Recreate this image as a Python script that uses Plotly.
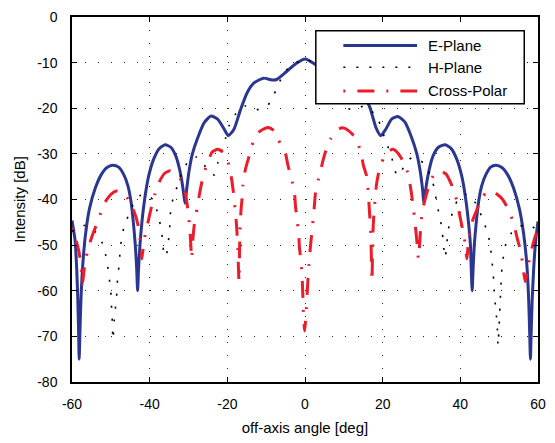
import plotly.graph_objects as go

# ---------------- data ----------------
e_angle = [-60, -59.2, -58.8, -58.5, -58.3, -58.15, -57.95, -57.7, -57.2, -56.5, -55.5, -54, -52.5, -51,
           -49.5, -48, -46.7, -45.6, -44.8, -44.2, -43.7, -43.35, -43.1, -42.85, -42.5, -42, -41.3,
           -40.3, -39, -37.5, -36, -34.5, -33.3, -32.4, -31.7, -31.2, -30.9, -30.5, -29.9, -29,
           -27.6, -25.9, -24.2, -22.5, -20.8, -19.75, -18.3, -16.6, -14.9, -13.2, -10.7, -8.5,
           -7.3, -4.8, -2.3, 0,
           2.3, 4.8, 7.3, 8.5, 10.7, 13.2, 14.9, 16.7, 18.3, 19.5, 20.8, 22.3, 23.9, 25.7, 27.4,
           28.8, 29.7, 30.3, 30.6, 30.9, 31.4, 32.1, 33, 34.3, 36.1, 37.6, 39.1, 40.4, 41.4, 42.1,
           42.6, 42.8, 43.04, 43.3, 43.6, 44.1, 44.7, 45.5, 46.6, 47.8, 49.2, 50.7, 52.2, 53.7,
           55.2, 56.3, 57.1, 57.6, 57.85, 58.05, 58.25, 58.5, 58.9, 59.4, 60]
e_plane = [-44.6, -49, -55, -62, -69, -75, -69, -62, -54, -47.5, -42, -37.5, -34.6, -33,
           -32.5, -32.9, -34.5, -37, -40.5, -45, -50, -55, -60, -55, -50, -45, -40,
           -35, -31.2, -28.8, -28, -28.6, -30.4, -33, -36, -39, -40.8, -38, -34, -30,
           -26.4, -23.1, -21.7, -22.4, -24.6, -26, -24.6, -20.3, -16.6, -14.5, -13.4, -13.8,
           -13.7, -12, -10.2, -9.2,
           -10.2, -12, -13.7, -13.8, -13.4, -14.5, -16.6, -19.8, -24.3, -26, -24.6, -22.4, -21.8, -23, -26.3,
           -30, -34, -38, -40.8, -39, -36, -33, -30.4, -28.6, -28, -28.8, -31.2, -35, -40, -45,
           -50, -55, -60, -55, -50, -45, -40.5, -37, -34.5, -32.9, -32.5, -33, -34.6, -37.5,
           -42, -47.5, -54, -62, -69, -75, -69, -62, -55, -49, -44.8]

h_angle = [-60, -58.3, -56.5, -54.5, -52.6, -51.6, -50.9, -50.5, -50.05, -49.9, -49.7, -49.6, -49.45,
           -49.0, -48.6, -48.4, -48.2, -47.8, -47.6, -47.2, -46.5, -45.2, -44, -42.6, -41.3, -40,
           -38.9, -37.9, -37.2, -36.7, -36.4, -35.8, -34.9, -34.7, -34.5, -33.4, -32.6, -31.3,
           -29.6, -28, -26.8, -25.1, -23.3, -22.4, -21.3, -20.4, -19.6, -17.9, -15.4, -12.4,
           -9.7, -8, -6.7, -5.2, -3, 0,
           3, 5.2, 6.7, 8, 9.9, 12.4, 15.4, 17.9, 18.8, 20.9, 22.2, 22.9, 23.8, 25, 26.8, 28.1,
           30.6, 32.2, 33.2, 33.8, 34.4, 35.1, 35.5, 35.8, 36.1, 36.5, 36.8, 37.5, 38.4, 39.9,
           41.4, 42.9, 44.6, 45.8, 46.9, 47.7, 48, 48.4, 48.6, 48.8, 49.1, 49.4, 49.6, 49.7,
           49.9, 50.05, 50.2, 50.5, 50.7, 51.1, 51.7, 53.2, 55, 56.5, 58.3, 60]
h_plane = [-47, -45.9, -45.7, -46.6, -48.7, -51.2, -54, -56.8, -59.6, -62.4, -65.2, -68, -70.7,
           -65, -62.3, -59.5, -56.8, -53.9, -51.1, -48.4, -45.7, -43, -40.6, -39.2, -38.9, -39.3,
           -40.4, -43.1, -45.8, -48.6, -51.4, -52.5, -46.9, -44, -41.3, -38.6, -36, -33.4,
           -31.1, -30.7, -31.2, -33.6, -34.6, -31.8, -29, -26.4, -23.9, -21.3, -19.5, -20.3,
           -19.5, -17, -14.5, -12, -10.3, -9.3,
           -10.3, -12, -14.5, -17, -19.7, -20.3, -19.5, -21.3, -22.4, -27.5, -30.3, -33, -34.8, -33.5, -31.2, -30.7,
           -32.1, -34.6, -37.2, -40, -42.7, -45.6, -48.4, -51, -52.7, -50, -47.1, -44.4, -41.7, -39.4,
           -38.9, -39.5, -41.9, -44.4, -47, -49.8, -52.7, -55.4, -58.2, -61, -63.8, -66.5, -69.3, -72,
           -69.3, -66.4, -63.7, -58.1, -55.2, -52.5, -49.8, -47.3, -46, -45.6, -45.8, -47]

c_angle = [-60, -59, -58.2, -57.7, -57.3, -56.9, -56.3, -55.4, -54.3, -53.2, -51.8, -49.9, -48.3,
           -46.9, -45.5, -44.4, -43.3, -42.7, -42.3, -42, -41.6, -41, -40.3, -39.7, -38.7, -37.6,
           -36.2, -34.7, -33.3, -32.2, -30.9, -30.2, -29.7, -29.4, -29.2, -28.9, -28.5, -27.8,
           -27, -26.1, -25, -23.9, -22.5, -21.1, -20.1, -19.6, -19, -18.5, -18, -17.6, -17.3,
           -17, -16.85, -16.7, -16.5, -16.2, -16, -15.4, -14.5, -13.7, -12, -9.6, -8, -7, -5,
           -4.4, -3.5, -2.7, -2.45, -2.1, -1.6, -1.45, -1.1, -0.76, -0.6, -0.45, -0.1,
           0.35, 0.6, 0.8, 1.1, 1.4, 1.7, 2.1, 2.4, 2.7, 3.5, 4.3, 5.1, 6.6, 8, 9.6, 11.2, 12.9,
           14.4, 15, 15.9, 16.3, 16.5, 16.7, 16.95, 17.05, 17.15, 17.25, 17.4, 17.55, 17.8, 18.4,
           19.1, 20.2, 21.3, 22.7, 24, 25.1, 26.4, 27.3, 28, 28.5, 28.9, 29.2, 29.5, 29.8, 30.2,
           31.1, 32.3, 33.5, 34.9, 36.3, 37, 38.2, 39.1, 39.9, 40.6, 41.2, 41.7, 42.0, 42.5, 43.2,
           44.1, 45.4, 46.8, 48, 49.4, 50.9, 52.6, 53.8, 54.7, 55.5, 56.1, 56.7, 57.2, 57.8, 58.5,
           59.2, 60]
cross_polar = [-46.2, -48.8, -51.5, -54.5, -58.5, -55.5, -52.5, -49.5, -46.8, -44.5, -41, -38.8, -38.1,
               -38.4, -40, -41.8, -44.5, -47, -50, -53, -50, -47, -44.5, -42.2, -39, -36.3,
               -34.3, -33.7, -34.3, -35.4, -38.3, -42, -46, -50, -53, -49, -45.5, -42,
               -38, -34.5, -31.8, -29.6, -29, -29.7, -31.2, -32.4, -35, -38, -42, -46, -51,
               -58, -51, -46, -42.6, -39.7, -37, -33.6, -30.8, -28.2, -25.3, -24.2, -24.9, -26.7, -30,
               -32.5, -35.4, -38.6, -41.5, -44, -47.6, -50.4, -53, -56.6, -60, -64, -68.8,
               -64, -60, -56.8, -53.4, -50.3, -47.8, -44.3, -41.5, -38.6, -35.4, -32.6, -30, -26.7, -24.9, -24.3, -24.9, -26.4,
               -29.6, -32.4, -35, -38.6, -41.3, -44, -47.6, -51.2, -55, -58, -51, -46, -42.6, -36.8,
               -33.6, -31, -29.5, -29, -29.9, -31.4, -34, -38, -42.5, -46.5, -50, -53, -50, -46, -42.6,
               -39.4, -36, -34.2, -33.8, -34.4, -35.4, -37.7, -40.4, -43.7, -46.6, -49.4, -53, -50, -47, -44.5,
               -42.6, -39.6, -38.5, -38.1, -38.8, -40, -42.6, -45.5, -48.7, -51.2, -54.5, -58, -55.6, -53, -50.5,
               -48.3, -46.5]

series_names = ["E-Plane", "H-Plane", "Cross-Polar"]
x_ticks = [-60, -40, -20, 0, 20, 40, 60]
y_ticks = [0, -10, -20, -30, -40, -50, -60, -70, -80]

# ---------------- styles ----------------
BLUE = "#2b3691"
RED = "#ec1c2b"
FONT = "Liberation Sans, Arial, Helvetica, sans-serif"
styles = [
    dict(color=BLUE, width=3, dash="solid"),
    dict(color="black", width=1.6, dash="2px,11px"),
    dict(color=RED, width=3, dash="2px,12px,17px,12px"),
]

fig = go.Figure()
for name, xs, ys, st in zip(series_names,
                            [e_angle, h_angle, c_angle],
                            [e_plane, h_plane, cross_polar],
                            styles):
    fig.add_trace(go.Scatter(x=xs, y=ys, mode="lines", name=name,
                             line=dict(color=st["color"], width=st["width"], dash=st["dash"],
                                       shape="spline", smoothing=0.6),
                             showlegend=False))

axis_common = dict(
    showgrid=True, gridcolor="#222222", gridwidth=1, griddash="1px,12px",
    zeroline=False, showline=True, linecolor="black", linewidth=1.5, mirror="ticks",
    ticks="inside", ticklen=5, tickwidth=1, tickcolor="black",
    tickfont=dict(family=FONT, size=14, color="black"),
)
fig.update_xaxes(range=[-60, 60], tickvals=x_ticks, ticktext=[str(v) for v in x_ticks],
                 title=dict(text="off-axis angle [deg]", font=dict(family=FONT, size=15, color="black"),
                            standoff=12),
                 ticklabelstandoff=8, **axis_common)
fig.update_yaxes(range=[-80, 0], tickvals=y_ticks, ticktext=[str(v) for v in y_ticks],
                 title=dict(text="Intensity [dB]", font=dict(family=FONT, size=15, color="black"),
                            standoff=8),
                 ticklabelstandoff=10, **axis_common)

# ---------------- legend (drawn as box + samples + labels) ----------------
lx0, lx1, ly0, ly1 = 0.5232, 0.9705, 0.7622, 0.9622
shapes = [dict(type="rect", xref="paper", yref="paper", x0=lx0, x1=lx1, y0=ly0, y1=ly1,
               line=dict(color="black", width=1.5), fillcolor="white", layer="above")]
annotations = []
for name, st, yy in zip(series_names, styles, [0.9216, 0.8622, 0.7973]):
    shapes.append(dict(type="line", xref="paper", yref="paper", x0=0.5823, x1=0.7405, y0=yy, y1=yy,
                       line=dict(color=st["color"], width=st["width"], dash=st["dash"]), layer="above"))
    annotations.append(dict(xref="paper", yref="paper", x=0.7595, y=yy, text=name, showarrow=False,
                            xanchor="left", yanchor="middle",
                            font=dict(family=FONT, size=15, color="black")))

fig.update_layout(
    width=555, height=443,
    margin=dict(l=72, r=9, t=13, b=60),
    paper_bgcolor="white", plot_bgcolor="white",
    shapes=shapes, annotations=annotations,
    font=dict(family=FONT, color="black"),
)

fig.write_html("out.html")
